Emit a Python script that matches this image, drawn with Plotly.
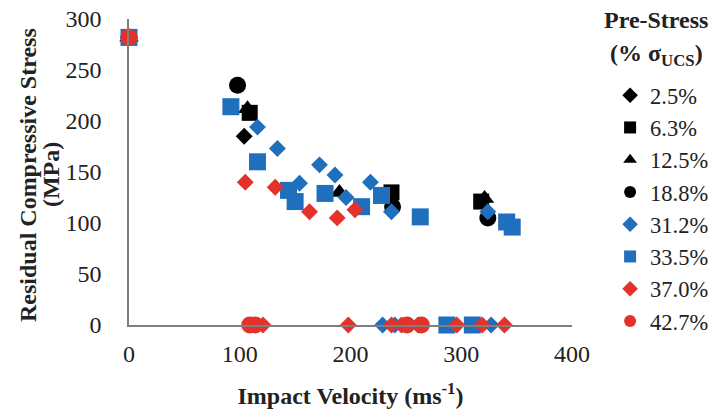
import plotly.graph_objects as go

# Data: (velocity m/s, residual compressive stress MPa)
s25_v = [0, 104]
s25_s = [282, 185]
s63_v = [0, 109, 237, 318]
s63_s = [282, 208, 130, 121]
s125_v = [0, 107, 190, 321]
s125_s = [282, 212, 130, 124]
s188_v = [0, 98, 238, 324]
s188_s = [282, 235, 116, 105]
s312_v = [0, 116, 134, 154, 172, 186, 196, 218, 237, 324, 229, 240, 261, 327]
s312_s = [282, 194, 173, 139, 157, 147, 125, 140, 111, 111, 0, 0, 0, 0]
s335_v = [0, 92, 116, 144, 150, 177, 210, 228, 263, 341, 346, 287, 310]
s335_s = [282, 214, 160, 132, 121, 129, 116, 127, 106, 101, 96, 0, 0]
s370_v = [0, 105, 132, 163, 188, 204, 121, 198, 237, 246, 296, 319, 339]
s370_s = [282, 140, 135, 111, 105, 113, 0, 0, 0, 0, 0, 0, 0]
s427_v = [0, 109, 114, 251, 264]
s427_s = [282, 0, 0, 0, 0]

labels = ["2.5%", "6.3%", "12.5%", "18.8%", "31.2%", "33.5%", "37.0%", "42.7%"]
xs = [s25_v, s63_v, s125_v, s188_v, s312_v, s335_v, s370_v, s427_v]
ys = [s25_s, s63_s, s125_s, s188_s, s312_s, s335_s, s370_s, s427_s]

legend_title_1 = "Pre-Stress"
legend_title_2 = "(% σ<sub>UCS</sub>)"
y_title_1 = "Residual Compressive Stress"
y_title_2 = "(MPa)"

BLACK = "#000000"
BLUE = "#1f6fbd"
RED = "#e4312a"
colors = [BLACK, BLACK, BLACK, BLACK, BLUE, BLUE, RED, RED]
symbols = ["diamond", "square", "triangle-up", "circle", "diamond", "square", "diamond", "circle"]
sizes = [13, 16, 17, 17, 13, 17, 13, 17]

FONT = "Liberation Serif, Times New Roman, serif"
TXT = "#222222"

fig = go.Figure()
for x, y, lab, c, sym, sz in zip(xs, ys, labels, colors, symbols, sizes):
    fig.add_trace(go.Scatter(
        x=x, y=y, mode="markers", name=lab, cliponaxis=False,
        marker=dict(color=c, symbol=sym, size=sz, line=dict(width=0)),
    ))

# legend title (two lines)
fig.add_annotation(text="<b>" + legend_title_1 + "</b>", xref="paper", yref="paper",
                   x=1.19, y=1.0 - 1 / 306, xanchor="center", yanchor="middle", showarrow=False,
                   font=dict(family=FONT, size=24, color=TXT))
fig.add_annotation(text="<b>" + legend_title_2 + "</b>", xref="paper", yref="paper",
                   x=1.19, y=1.0 - 36 / 306, xanchor="center", yanchor="middle", showarrow=False,
                   font=dict(family=FONT, size=24, color=TXT))
# y-axis title (two lines)
fig.add_annotation(text="<b>" + y_title_1 + "</b>", xref="paper", yref="paper",
                   x=(28 - 129) / 443, y=0.49, xanchor="center", yanchor="middle", showarrow=False,
                   textangle=-90, font=dict(family=FONT, size=24, color=TXT))
fig.add_annotation(text="<b>" + y_title_2 + "</b>", xref="paper", yref="paper",
                   x=(51 - 129) / 443, y=0.49, xanchor="center", yanchor="middle", showarrow=False,
                   textangle=-90, font=dict(family=FONT, size=24, color=TXT))

fig.update_layout(
    width=716, height=410,
    margin=dict(l=129, r=144, t=19, b=85, autoexpand=False),
    paper_bgcolor="white", plot_bgcolor="white",
    font=dict(family=FONT, color=TXT, size=23),
    showlegend=True,
    legend=dict(
        x=1.086, xanchor="left", y=0.82, yanchor="top",
        maxheight=420, tracegroupgap=0,
        font=dict(family=FONT, size=22.5, color=TXT),
        itemsizing="constant",
        bgcolor="rgba(0,0,0,0)",
    ),
    xaxis=dict(
        range=[0, 400], tickvals=[0, 100, 200, 300, 400],
        showgrid=False, zeroline=False, showline=True, linecolor="#7f7f7f", linewidth=1.5,
        ticks="", ticklabelstandoff=6,
        tickfont=dict(family=FONT, size=24, color=TXT),
        title=dict(text="<b>Impact Velocity (ms<sup>-1</sup>)</b>", standoff=22,
                   font=dict(family=FONT, size=24, color=TXT)),
    ),
    yaxis=dict(
        range=[0, 300], tickvals=[0, 50, 100, 150, 200, 250, 300],
        showgrid=False, zeroline=False, showline=True, linecolor="#7f7f7f", linewidth=1.5,
        ticks="", ticklabelstandoff=21,
        tickfont=dict(family=FONT, size=24, color=TXT),
    ),
)

fig.write_html("out.html")
